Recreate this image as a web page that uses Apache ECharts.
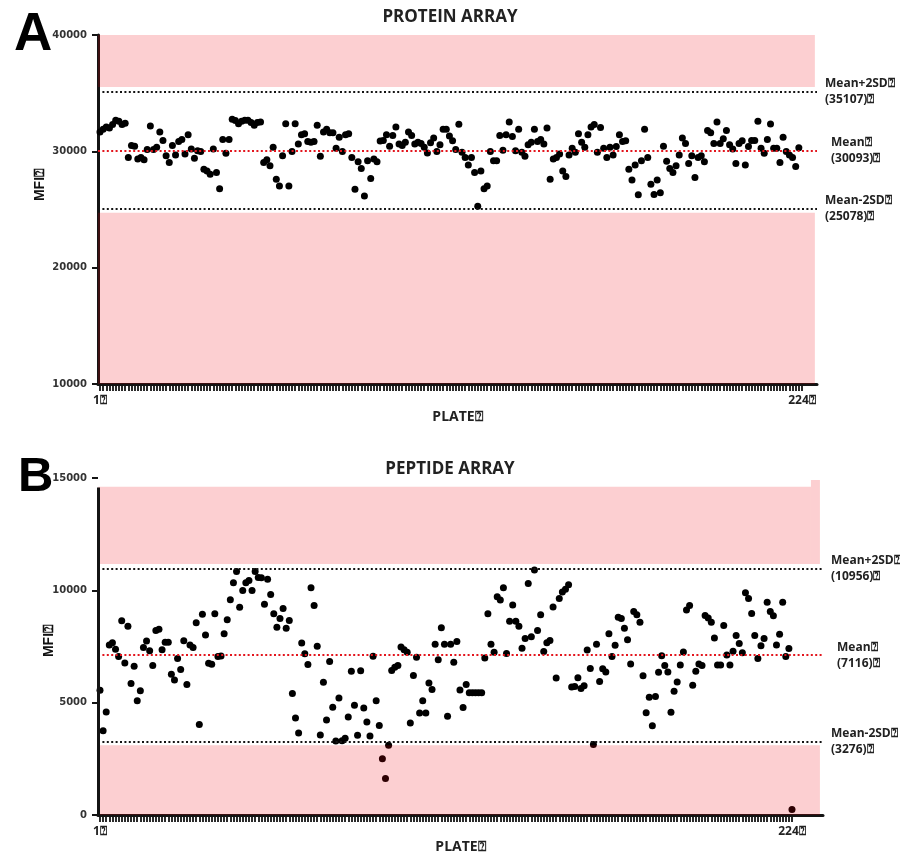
<!DOCTYPE html>
<html><head><meta charset="utf-8">
<script src="https://cdn.jsdelivr.net/npm/echarts@6/dist/echarts.min.js"></script>
<style>html,body{margin:0;padding:0;background:#fff}#c{width:900px;height:855px}</style>
</head><body><div id="c"></div>
<script>
const Q = '\u2370';
const plates = Array.from({length: 224}, (_, i) => i + 1);
const xTickLabels = [1, 224];

const proteinMFI = [
31660,31890,32090,32010,32300,32670,32590,32300,32410,29480,
30500,30440,29340,29480,29280,30150,32180,30150,30350,31660,
30930,29630,29050,30500,29690,30850,31020,29770,31430,30210,
29400,30060,29980,28470,28320,28030,30210,28180,26790,31020,
29830,31020,32760,32640,32380,32590,32670,32670,32470,32240,
32470,32530,29050,29280,28760,30350,27600,27020,29630,32380,
27020,29980,32380,30640,31430,31510,30850,30790,30850,32240,
29570,31660,31890,31600,31600,30270,31220,29980,31430,31510,
29480,26730,29110,28530,26150,29190,27660,29340,29110,30880,
30930,31430,30440,31370,32090,30640,30500,30790,31660,31370,
30640,30790,30670,30350,29860,30730,31140,29980,30560,31890,
31890,31310,30900,30150,32330,29920,29480,28820,29480,28180,
25280,28320,26790,27020,29980,29190,29190,31370,30090,31430,
32530,31280,30060,31890,29920,29570,30560,30790,31890,30850,
31020,30640,32010,27600,29340,29480,29770,28320,27830,29690,
30270,29920,31510,30790,30350,31430,32090,32300,29920,32040,
30270,29480,30350,29690,30410,31430,30850,30900,28470,27540,
28820,26270,29190,31890,29460,27160,26290,27540,26440,30440,
29140,28530,28180,28760,29690,31140,30670,28960,29630,27740,
29480,29630,29110,31800,31600,30670,32530,30670,31080,31800,
30560,30210,28960,30670,30900,28820,30410,30930,30930,32590,
30270,29830,31020,32360,30270,30270,29050,31220,29980,29690,
29480,28700,30300,null
];

const peptideMFI = [
5550,3750,4580,7570,7670,7380,7050,8650,6770,8400,
5850,6620,5090,5530,7450,7750,7310,6650,8210,8270,
7350,7690,7690,6260,6010,6970,6480,7760,5810,7570,
7450,8560,4030,8930,8010,6750,6710,8960,7050,7080,
8070,8690,9580,10340,10840,9250,9990,10340,10440,9990,
10840,10570,10560,9380,10490,9820,8960,8360,8750,9190,
8310,8660,5410,4320,3650,7660,7180,6700,10120,9330,
7510,3560,5910,4230,6830,4800,3290,5210,3300,3420,
4360,6400,4890,3550,6420,4760,4140,3520,7070,5080,
3980,2500,1620,3110,6430,6580,6650,7480,7350,7240,
4100,6210,7020,4540,5090,4540,5880,5590,7600,6910,
8330,7600,4390,7600,6800,7720,5560,4790,5810,5440,
5440,5440,5440,5440,6990,8960,7600,7240,9710,9570,
10110,7190,8620,9350,8620,8400,7420,7860,10300,7930,
10910,8210,8910,7280,7670,7770,9260,6100,9640,9930,
10050,10250,5700,5720,6110,5630,5750,7340,6520,3140,
7600,5940,6510,6360,8070,7050,7560,8800,8750,8310,
7800,6720,9060,8910,8580,6200,4550,5240,3970,5270,
6350,7090,6650,6370,4570,5510,5920,6680,7260,9130,
9320,5780,6400,6720,6650,8880,8770,8580,7880,6680,
6680,8430,7120,6680,7290,7990,7630,7220,9890,9640,
8970,7990,6970,7530,7860,9470,9060,8870,7570,8050,
9470,7060,7410,240
];

const lineNames = ['Mean+2SD', 'Mean', 'Mean-2SD'];
const proteinLines = [35107, 30093, 25078];
const peptideLines = [10956, 7116, 3276];
const proteinYRange = [10000, 40000, 10000];
const peptideYRange = [0, 15000, 5000];
const proteinXRange = [0.365, 228.77];
const peptideXRange = [0.355, 233.99];
// shaded "out of range" bands: [yFrom, yTo, xFrom, xTo]
const proteinBands = [[35540, 40000, 0.365, 228.1], [10000, 24720, 0.365, 228.1]];
const peptideBands = [[11170, 14610, 0.355, 230.1], [11170, 14915, 230.1, 233.0], [0, 3100, 0.355, 233.0]];
const peptideAxisTop = 14580;

const RED = '#e3151d';
const INK = '#141414';
const PINK = 'rgba(240,0,12,0.19)';

function xAxisDef(gi, range, nameGap) {
  return {
    gridIndex: gi, type: 'value', min: range[0], max: range[1],
    axisLine: {show: true, onZero: false, lineStyle: {color: INK, width: 3}},
    axisTick: {show: true, customValues: plates, length: 7, inside: false, lineStyle: {color: INK, width: 1.8}},
    axisLabel: {customValues: xTickLabels, formatter: v => v + Q, margin: 11, color: '#222',
      fontFamily: 'Open Sans', fontWeight: 'bold', fontSize: 12},
    splitLine: {show: false},
    name: 'PLATE' + Q, nameLocation: 'middle', nameGap: nameGap,
    nameTextStyle: {fontFamily: 'Open Sans', fontWeight: 'bold', fontSize: 14, color: '#222'}
  };
}
function yAxisDef(gi, r, showLine) {
  return {
    gridIndex: gi, type: 'value', min: r[0], max: r[1], interval: r[2],
    axisLine: {show: showLine, lineStyle: {color: INK, width: 3}},
    axisTick: {show: true, length: 6, lineStyle: {color: INK, width: 2}},
    axisLabel: {formatter: v => String(v), fontFamily: 'DejaVu Sans', fontWeight: 'bold', fontSize: 10, color: '#333', margin: 11},
    splitLine: {show: false}
  };
}
function scatter(gi, vals) {
  return {
    type: 'scatter', xAxisIndex: gi, yAxisIndex: gi, z: 2,
    symbolSize: 7, itemStyle: {color: '#000', opacity: 1},
    data: plates.map((p, i) => [p, vals[i]]).filter(d => d[1] != null)
  };
}
function bands(gi, list) {
  return {
    type: 'line', xAxisIndex: gi, yAxisIndex: gi, z: 6, data: [], silent: true,
    markArea: {silent: true, z: 6, itemStyle: {color: PINK},
      data: list.map(b => [{xAxis: b[2], yAxis: b[0]}, {xAxis: b[3], yAxis: b[1]}])}
  };
}
function lines(gi, vals, extra) {
  const data = lineNames.map((n, k) => ({
    yAxis: vals[k],
    lineStyle: {color: k === 1 ? RED : INK},
    label: {formatter: n + Q + '\n(' + vals[k] + ')' + Q, padding: k === 1 ? [0, 0, 0, 6] : 0}
  }));
  return {
    type: 'line', xAxisIndex: gi, yAxisIndex: gi, z: 8, data: [], silent: true,
    markLine: {silent: true, z: 8, symbol: ['none', 'none'], animation: false,
      lineStyle: {type: [2, 2.4], width: 2.2},
      label: {position: 'end', distance: 8, color: '#222', fontFamily: 'Open Sans',
        fontWeight: 'bold', fontSize: 12, lineHeight: 16, align: 'left'},
      data: data.concat(extra || [])}
  };
}

const chart = echarts.init(document.getElementById('c'), null, {renderer: 'canvas'});
chart.setOption({
  animation: false,
  backgroundColor: '#fff',
  title: [
    {text: 'PROTEIN ARRAY', left: 'center', top: 4, textStyle: {fontFamily: 'Open Sans', fontWeight: 'bold', fontSize: 17, color: '#222'}},
    {text: 'PEPTIDE ARRAY', left: 'center', top: 456, textStyle: {fontFamily: 'Open Sans', fontWeight: 'bold', fontSize: 17, color: '#222'}},
    {text: 'A', left: 9, top: 4, textStyle: {fontFamily: 'Liberation Sans', fontWeight: 'bold', fontSize: 53, color: '#000'}},
    {text: 'B', left: 13, top: 448, textStyle: {fontFamily: 'Liberation Sans', fontWeight: 'bold', fontSize: 49, color: '#000'}}
  ],
  graphic: [
    {type: 'text', x: 40, y: 185, rotation: Math.PI / 2,
      style: {text: 'MFI' + Q, font: 'bold 14px "Liberation Sans"', align: 'center', verticalAlign: 'middle', fill: '#111'}},
    {type: 'text', x: 49, y: 641, rotation: Math.PI / 2,
      style: {text: 'MFI' + Q, font: 'bold 14px "Liberation Sans"', align: 'center', verticalAlign: 'middle', fill: '#111'}}
  ],
  grid: [
    {left: 98, right: 83, top: 35, height: 349},
    {left: 98, right: 77, top: 478, height: 343}
  ],
  xAxis: [xAxisDef(0, proteinXRange, 26), xAxisDef(1, peptideXRange, 25)],
  yAxis: [yAxisDef(0, proteinYRange, true), yAxisDef(1, peptideYRange, false)],
  series: [
    scatter(0, proteinMFI),
    bands(0, proteinBands),
    lines(0, proteinLines),
    scatter(1, peptideMFI),
    bands(1, peptideBands),
    lines(1, peptideLines, [[
      {coord: [peptideXRange[0], peptideYRange[0]], lineStyle: {type: 'solid', width: 3, color: INK}, label: {show: false}},
      {coord: [peptideXRange[0], peptideAxisTop]}
    ]])
  ]
});
</script>
</body></html>
